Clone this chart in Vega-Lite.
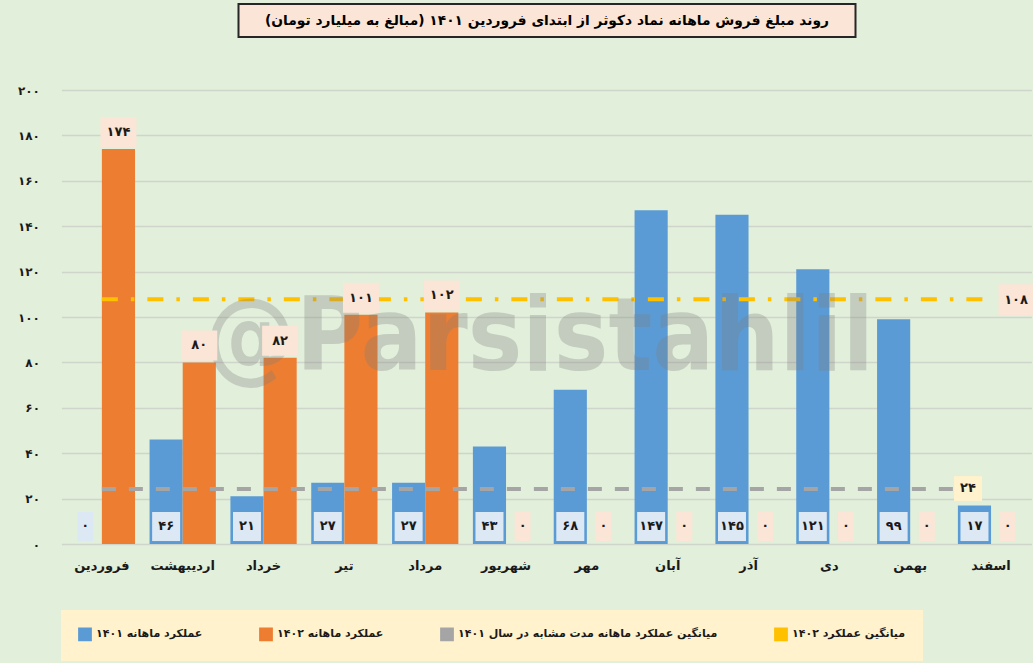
{
  "$schema": "https://vega.github.io/schema/vega-lite/v6.json",
  "background": "#e2efda",
  "padding": {"left": 17, "top": 3, "right": 0, "bottom": 2},
  "spacing": 46,
  "center": true,
  "config": {"view": {"stroke": null}, "font": "DejaVu Sans"},
  "datasets": {
    "sales": [
      {"kind": "bar", "month": "فروردین", "year": 1401, "series": "عملکرد ماهانه ۱۴۰۱", "value": 0},
      {"kind": "bar", "month": "اردیبهشت", "year": 1401, "series": "عملکرد ماهانه ۱۴۰۱", "value": 46},
      {"kind": "bar", "month": "خرداد", "year": 1401, "series": "عملکرد ماهانه ۱۴۰۱", "value": 21},
      {"kind": "bar", "month": "تیر", "year": 1401, "series": "عملکرد ماهانه ۱۴۰۱", "value": 27},
      {"kind": "bar", "month": "مرداد", "year": 1401, "series": "عملکرد ماهانه ۱۴۰۱", "value": 27},
      {"kind": "bar", "month": "شهریور", "year": 1401, "series": "عملکرد ماهانه ۱۴۰۱", "value": 43},
      {"kind": "bar", "month": "مهر", "year": 1401, "series": "عملکرد ماهانه ۱۴۰۱", "value": 68},
      {"kind": "bar", "month": "آبان", "year": 1401, "series": "عملکرد ماهانه ۱۴۰۱", "value": 147},
      {"kind": "bar", "month": "آذر", "year": 1401, "series": "عملکرد ماهانه ۱۴۰۱", "value": 145},
      {"kind": "bar", "month": "دی", "year": 1401, "series": "عملکرد ماهانه ۱۴۰۱", "value": 121},
      {"kind": "bar", "month": "بهمن", "year": 1401, "series": "عملکرد ماهانه ۱۴۰۱", "value": 99},
      {"kind": "bar", "month": "اسفند", "year": 1401, "series": "عملکرد ماهانه ۱۴۰۱", "value": 17},
      {"kind": "bar", "month": "فروردین", "year": 1402, "series": "عملکرد ماهانه ۱۴۰۲", "value": 174},
      {"kind": "bar", "month": "اردیبهشت", "year": 1402, "series": "عملکرد ماهانه ۱۴۰۲", "value": 80},
      {"kind": "bar", "month": "خرداد", "year": 1402, "series": "عملکرد ماهانه ۱۴۰۲", "value": 82},
      {"kind": "bar", "month": "تیر", "year": 1402, "series": "عملکرد ماهانه ۱۴۰۲", "value": 101},
      {"kind": "bar", "month": "مرداد", "year": 1402, "series": "عملکرد ماهانه ۱۴۰۲", "value": 102},
      {"kind": "bar", "month": "شهریور", "year": 1402, "series": "عملکرد ماهانه ۱۴۰۲", "value": 0},
      {"kind": "bar", "month": "مهر", "year": 1402, "series": "عملکرد ماهانه ۱۴۰۲", "value": 0},
      {"kind": "bar", "month": "آبان", "year": 1402, "series": "عملکرد ماهانه ۱۴۰۲", "value": 0},
      {"kind": "bar", "month": "آذر", "year": 1402, "series": "عملکرد ماهانه ۱۴۰۲", "value": 0},
      {"kind": "bar", "month": "دی", "year": 1402, "series": "عملکرد ماهانه ۱۴۰۲", "value": 0},
      {"kind": "bar", "month": "بهمن", "year": 1402, "series": "عملکرد ماهانه ۱۴۰۲", "value": 0},
      {"kind": "bar", "month": "اسفند", "year": 1402, "series": "عملکرد ماهانه ۱۴۰۲", "value": 0},
      {"kind": "avg", "month": "فروردین", "year": 1401, "series": "میانگین عملکرد ماهانه مدت مشابه در سال ۱۴۰۱", "value": 24.2},
      {"kind": "avg", "month": "اردیبهشت", "year": 1401, "series": "میانگین عملکرد ماهانه مدت مشابه در سال ۱۴۰۱", "value": 24.2},
      {"kind": "avg", "month": "خرداد", "year": 1401, "series": "میانگین عملکرد ماهانه مدت مشابه در سال ۱۴۰۱", "value": 24.2},
      {"kind": "avg", "month": "تیر", "year": 1401, "series": "میانگین عملکرد ماهانه مدت مشابه در سال ۱۴۰۱", "value": 24.2},
      {"kind": "avg", "month": "مرداد", "year": 1401, "series": "میانگین عملکرد ماهانه مدت مشابه در سال ۱۴۰۱", "value": 24.2},
      {"kind": "avg", "month": "شهریور", "year": 1401, "series": "میانگین عملکرد ماهانه مدت مشابه در سال ۱۴۰۱", "value": 24.2},
      {"kind": "avg", "month": "مهر", "year": 1401, "series": "میانگین عملکرد ماهانه مدت مشابه در سال ۱۴۰۱", "value": 24.2},
      {"kind": "avg", "month": "آبان", "year": 1401, "series": "میانگین عملکرد ماهانه مدت مشابه در سال ۱۴۰۱", "value": 24.2},
      {"kind": "avg", "month": "آذر", "year": 1401, "series": "میانگین عملکرد ماهانه مدت مشابه در سال ۱۴۰۱", "value": 24.2},
      {"kind": "avg", "month": "دی", "year": 1401, "series": "میانگین عملکرد ماهانه مدت مشابه در سال ۱۴۰۱", "value": 24.2},
      {"kind": "avg", "month": "بهمن", "year": 1401, "series": "میانگین عملکرد ماهانه مدت مشابه در سال ۱۴۰۱", "value": 24.2},
      {"kind": "avg", "month": "اسفند", "year": 1401, "series": "میانگین عملکرد ماهانه مدت مشابه در سال ۱۴۰۱", "value": 24.2},
      {"kind": "avg", "month": "فروردین", "year": 1402, "series": "میانگین عملکرد ۱۴۰۲", "value": 107.8},
      {"kind": "avg", "month": "اردیبهشت", "year": 1402, "series": "میانگین عملکرد ۱۴۰۲", "value": 107.8},
      {"kind": "avg", "month": "خرداد", "year": 1402, "series": "میانگین عملکرد ۱۴۰۲", "value": 107.8},
      {"kind": "avg", "month": "تیر", "year": 1402, "series": "میانگین عملکرد ۱۴۰۲", "value": 107.8},
      {"kind": "avg", "month": "مرداد", "year": 1402, "series": "میانگین عملکرد ۱۴۰۲", "value": 107.8},
      {"kind": "avg", "month": "شهریور", "year": 1402, "series": "میانگین عملکرد ۱۴۰۲", "value": 107.8},
      {"kind": "avg", "month": "مهر", "year": 1402, "series": "میانگین عملکرد ۱۴۰۲", "value": 107.8},
      {"kind": "avg", "month": "آبان", "year": 1402, "series": "میانگین عملکرد ۱۴۰۲", "value": 107.8},
      {"kind": "avg", "month": "آذر", "year": 1402, "series": "میانگین عملکرد ۱۴۰۲", "value": 107.8},
      {"kind": "avg", "month": "دی", "year": 1402, "series": "میانگین عملکرد ۱۴۰۲", "value": 107.8},
      {"kind": "avg", "month": "بهمن", "year": 1402, "series": "میانگین عملکرد ۱۴۰۲", "value": 107.8},
      {"kind": "avg", "month": "اسفند", "year": 1402, "series": "میانگین عملکرد ۱۴۰۲", "value": 107.8}
    ]
  },
  "vconcat": [
    {
      "width": 617,
      "height": 33,
      "view": {"fill": "#fbe5d6", "stroke": "#262626", "strokeWidth": 2},
      "data": {"values": [{"title": "\u200fروند مبلغ فروش ماهانه نماد دکوثر از ابتدای فروردین ۱۴۰۱ (مبالغ به میلیارد تومان)\u200f"}]},
      "mark": {"type": "text", "fontSize": 13.8, "fontWeight": "bold", "color": "#000000", "baseline": "middle"},
      "encoding": {"text": {"field": "title"}}
    },
    {
      "width": 970,
      "height": 454,
      "data": {"name": "sales"},
      "transform": [
        {"calculate": "replace(replace(replace(replace(replace(replace(replace(replace(replace(replace(toString(round(datum.value)),regexp('0','g'),'۰'),regexp('1','g'),'۱'),regexp('2','g'),'۲'),regexp('3','g'),'۳'),regexp('4','g'),'۴'),regexp('5','g'),'۵'),regexp('6','g'),'۶'),regexp('7','g'),'۷'),regexp('8','g'),'۸'),regexp('9','g'),'۹')", "as": "label"}
      ],
      "encoding": {
        "x": {
          "field": "month",
          "type": "nominal",
          "sort": null,
          "scale": {"domain": ["فروردین", "اردیبهشت", "خرداد", "تیر", "مرداد", "شهریور", "مهر", "آبان", "آذر", "دی", "بهمن", "اسفند"], "paddingInner": 0.18, "paddingOuter": 0.09},
          "axis": {"title": null, "labelAngle": 0, "ticks": false, "domain": false, "labelPadding": 15, "labelFontSize": 13, "labelFontWeight": "bold", "labelColor": "#1a1a1a"}
        }
      },
      "layer": [
        {
          "transform": [{"filter": "datum.kind === 'bar'"}],
          "mark": {"type": "bar"},
          "encoding": {
            "xOffset": {"field": "series", "type": "nominal", "scale": {"domain": ["عملکرد ماهانه ۱۴۰۱", "عملکرد ماهانه ۱۴۰۲"], "paddingInner": 0, "paddingOuter": 0}},
            "y": {
              "field": "value",
              "type": "quantitative",
              "scale": {"domain": [0, 200], "nice": false},
              "axis": {
                "title": null,
                "values": [0, 20, 40, 60, 80, 100, 120, 140, 160, 180, 200],
                "labelExpr": "replace(replace(replace(replace(replace(replace(replace(replace(replace(replace(toString(datum.value),regexp('0','g'),'۰'),regexp('1','g'),'۱'),regexp('2','g'),'۲'),regexp('3','g'),'۳'),regexp('4','g'),'۴'),regexp('5','g'),'۵'),regexp('6','g'),'۶'),regexp('7','g'),'۷'),regexp('8','g'),'۸'),regexp('9','g'),'۹')",
                "domain": false,
                "ticks": false,
                "gridColor": "#d0d5cb",
                "gridWidth": 1.5,
                "labelPadding": 22,
                "labelFontSize": 12,
                "labelFontWeight": "bold",
                "labelColor": "#1a1a1a",
                "minExtent": 40,
                "maxExtent": 40
              }
            },
            "color": {
              "field": "series",
              "type": "nominal",
              "scale": {
                "domain": ["عملکرد ماهانه ۱۴۰۱", "عملکرد ماهانه ۱۴۰۲", "میانگین عملکرد ماهانه مدت مشابه در سال ۱۴۰۱", "میانگین عملکرد ۱۴۰۲"],
                "range": ["#5b9bd5", "#ed7d31", "#a5a5a5", "#ffc000"]
              },
              "legend": {
                "title": null,
                "orient": "bottom",
                "offset": 38,
                "direction": "horizontal",
                "columnPadding": 53,
                "fillColor": "#fff2cc",
                "padding": 17,
                "symbolType": "square",
                "symbolSize": 150,
                "labelFontSize": 11,
                "labelFontWeight": "bold",
                "labelColor": "#1a1a1a",
                "labelLimit": 500
              }
            }
          }
        },
        {
          "transform": [{"filter": "datum.kind === 'avg'"}],
          "mark": {"type": "line", "strokeWidth": 4, "strokeCap": "butt"},
          "encoding": {
            "y": {"field": "value", "type": "quantitative"},
            "color": {"field": "series", "type": "nominal"},
            "strokeDash": {"field": "series", "type": "nominal", "scale": {"domain": ["میانگین عملکرد ماهانه مدت مشابه در سال ۱۴۰۱", "میانگین عملکرد ۱۴۰۲"], "range": [[14, 13], [16, 13, 3.5, 13]]}, "legend": null}
          }
        },
        {
          "data": {"values": [{"wm": "@Parsistahlil"}]},
          "mark": {"type": "text", "font": "Liberation Sans Narrow, DejaVu Sans Condensed, sans-serif", "fontWeight": "bold", "fontSize": 102, "color": "#7f7f7f", "opacity": 0.3, "dx": 33, "baseline": "middle"},
          "encoding": {
            "x": {"datum": "شهریور"},
            "y": {"datum": 90.4, "type": "quantitative"},
            "text": {"field": "wm"}
          }
        },
        {
          "transform": [{"filter": "datum.kind === 'bar' && datum.year === 1401 && datum.value > 0"}],
          "mark": {"type": "bar", "width": 28, "color": "#dde8f5"},
          "encoding": {
            "xOffset": {"field": "series", "type": "nominal"},
            "y": {"datum": 1.3, "type": "quantitative"},
            "y2": {"datum": 14.1}
          }
        },
        {
          "transform": [{"filter": "datum.kind === 'bar' && datum.value === 0"}],
          "mark": {"type": "bar", "width": 16},
          "encoding": {
            "xOffset": {"field": "series", "type": "nominal"},
            "y": {"datum": 1.3, "type": "quantitative"},
            "y2": {"datum": 14.1},
            "color": {"condition": {"test": "datum.year === 1401", "value": "#dde8f5"}, "value": "#fbe5d6"}
          }
        },
        {
          "transform": [{"filter": "datum.kind === 'bar' && datum.year === 1402 && datum.value > 0"}],
          "mark": {"type": "bar", "width": 36, "color": "#fbe5d6", "yOffset": -32, "y2Offset": -2},
          "encoding": {
            "xOffset": {"field": "series", "type": "nominal"},
            "y": {"field": "value", "type": "quantitative"},
            "y2": {"field": "value"}
          }
        },
        {
          "transform": [{"filter": "datum.kind === 'avg' && datum.month === 'اسفند' && datum.year === 1401"}],
          "mark": {"type": "bar", "width": 28, "color": "#fff2cc", "xOffset": -23, "yOffset": -13, "y2Offset": 12},
          "encoding": {
            "y": {"field": "value", "type": "quantitative"},
            "y2": {"field": "value"}
          }
        },
        {
          "transform": [{"filter": "datum.kind === 'avg' && datum.month === 'اسفند' && datum.year === 1402"}],
          "mark": {"type": "bar", "width": 35, "color": "#fbe5d6", "xOffset": 25, "yOffset": -15, "y2Offset": 16},
          "encoding": {
            "y": {"field": "value", "type": "quantitative"},
            "y2": {"field": "value"}
          }
        },
        {
          "transform": [{"filter": "datum.kind === 'bar' && (datum.year === 1401 || datum.value === 0)"}],
          "mark": {"type": "text", "fontSize": 13, "fontWeight": "bold", "color": "#1a1a1a", "baseline": "middle"},
          "encoding": {
            "xOffset": {"field": "series", "type": "nominal"},
            "y": {"datum": 7.9, "type": "quantitative"},
            "text": {"field": "label"}
          }
        },
        {
          "transform": [{"filter": "datum.kind === 'bar' && datum.year === 1402 && datum.value > 0"}],
          "mark": {"type": "text", "fontSize": 13, "fontWeight": "bold", "color": "#1a1a1a", "baseline": "middle", "dy": -17},
          "encoding": {
            "xOffset": {"field": "series", "type": "nominal"},
            "y": {"field": "value", "type": "quantitative"},
            "text": {"field": "label"}
          }
        },
        {
          "transform": [{"filter": "datum.kind === 'avg' && datum.month === 'اسفند' && datum.year === 1401"}],
          "mark": {"type": "text", "fontSize": 13, "fontWeight": "bold", "color": "#1a1a1a", "baseline": "middle", "dx": -23, "dy": -1},
          "encoding": {
            "y": {"field": "value", "type": "quantitative"},
            "text": {"field": "label"}
          }
        },
        {
          "transform": [{"filter": "datum.kind === 'avg' && datum.month === 'اسفند' && datum.year === 1402"}],
          "mark": {"type": "text", "fontSize": 13, "fontWeight": "bold", "color": "#1a1a1a", "baseline": "middle", "dx": 25, "dy": 1},
          "encoding": {
            "y": {"field": "value", "type": "quantitative"},
            "text": {"field": "label"}
          }
        }
      ]
    }
  ]
}
